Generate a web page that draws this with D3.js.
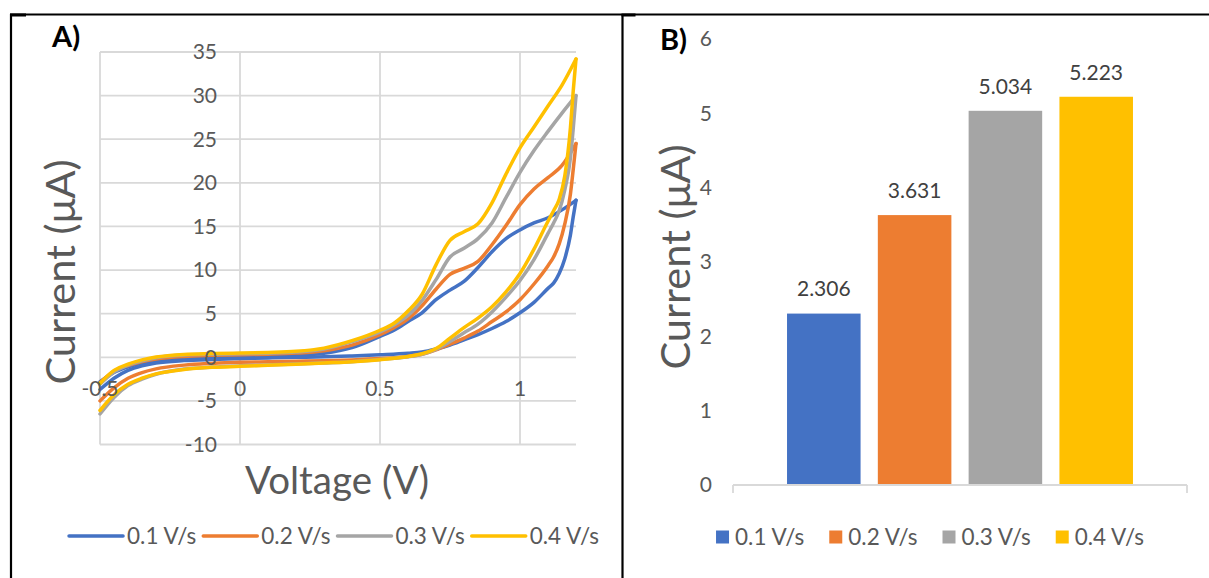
<!DOCTYPE html>
<html>
<head>
<meta charset="utf-8">
<script src="https://cdn.jsdelivr.net/npm/d3@7"></script>
<style>
  body { margin: 0; background: #fff; }
  text { font-family: Lato, "Open Sans", sans-serif; }
</style>
</head>
<body>
<svg id="chart" width="1209" height="578"></svg>
<script>
// series (scan rates) and their colours
var seriesNames = ["0.1 V/s", "0.2 V/s", "0.3 V/s", "0.4 V/s"];
var seriesColors = ["#4472C4", "#ED7D31", "#A5A5A5", "#FFC000"];

// panel A - cyclic voltammograms: forward scan (-0.5 -> 1.2 V) then reverse scan (1.2 -> -0.5 V)
var forwardV = [-0.5, -0.45, -0.4, -0.35, -0.3, -0.2, -0.1, 0, 0.1, 0.2, 0.3, 0.4, 0.5, 0.55, 0.6, 0.65, 0.7, 0.75, 0.8, 0.85, 0.9, 0.95, 1.0, 1.05, 1.1, 1.15, 1.2];
var reverseV = [1.2, 1.19, 1.18, 1.16, 1.14, 1.12, 1.1, 1.05, 1.0, 0.95, 0.9, 0.85, 0.8, 0.75, 0.7, 0.65, 0.6, 0.5, 0.4, 0.3, 0.2, 0.1, 0, -0.1, -0.2, -0.3, -0.35, -0.4, -0.45, -0.5];

var forwardI_01 = [-2.8, -1.75, -1.1, -0.65, -0.4, -0.15, -0.05, 0.0, 0.08, 0.2, 0.45, 1.1, 2.4, 3.1, 4.1, 5.1, 6.6, 7.7, 8.7, 10.3, 12.1, 13.6, 14.6, 15.4, 16.0, 16.9, 18.0];
var forwardI_02 = [-2.9, -1.6, -0.95, -0.5, -0.2, 0.1, 0.22, 0.3, 0.36, 0.48, 0.75, 1.4, 2.6, 3.4, 4.4, 5.9, 7.8, 9.5, 10.2, 11.0, 12.9, 15.1, 17.5, 19.3, 20.6, 22.0, 24.5];
var forwardI_03 = [-3.1, -1.7, -0.9, -0.4, -0.05, 0.25, 0.35, 0.4, 0.47, 0.6, 0.95, 1.8, 2.9, 3.7, 4.8, 6.5, 8.9, 11.5, 12.5, 13.6, 15.4, 18.3, 21.2, 23.7, 25.9, 28.0, 30.0];
var forwardI_04 = [-3.0, -1.5, -0.8, -0.3, 0.03, 0.33, 0.42, 0.48, 0.55, 0.68, 1.05, 1.9, 3.1, 3.9, 5.3, 7.2, 10.6, 13.4, 14.4, 15.3, 17.7, 21.0, 24.0, 26.4, 28.8, 31.2, 34.2];

var reverseI_01 = [18.0, 16.1, 14.0, 11.3, 9.6, 8.5, 7.9, 6.3, 5.1, 4.1, 3.3, 2.6, 2.0, 1.4, 0.95, 0.6, 0.45, 0.28, 0.15, 0.05, 0.0, -0.07, -0.16, -0.25, -0.38, -0.66, -0.98, -1.5, -2.4, -3.7];
var reverseI_02 = [24.5, 21.5, 18.7, 15.3, 13.0, 11.5, 10.5, 8.4, 6.6, 5.2, 4.1, 3.0, 2.2, 1.5, 0.85, 0.35, 0.1, -0.15, -0.3, -0.4, -0.45, -0.52, -0.58, -0.7, -0.9, -1.33, -1.75, -2.4, -3.5, -5.0];
var reverseI_03 = [30.0, 26.2, 22.8, 19.2, 16.8, 15.4, 14.2, 11.2, 8.8, 6.9, 5.2, 3.8, 2.8, 1.8, 0.9, 0.35, 0.05, -0.25, -0.5, -0.65, -0.78, -0.88, -0.98, -1.12, -1.35, -1.95, -2.5, -3.25, -4.6, -6.5];
var reverseI_04 = [34.2, 30.5, 26.3, 20.8, 18.1, 16.8, 15.6, 12.4, 9.6, 7.5, 5.8, 4.5, 3.4, 2.2, 1.0, 0.4, 0.1, -0.27, -0.5, -0.65, -0.8, -0.92, -1.04, -1.15, -1.4, -1.9, -2.4, -3.1, -4.3, -6.1];

var xTicksA = [-0.5, 0, 0.5, 1];
var yTicksA = [-10, -5, 0, 5, 10, 15, 20, 25, 30, 35];

// panel B - peak current per scan rate
var peakCurrent = [2.306, 3.631, 5.034, 5.223];
var yTicksB = [0, 1, 2, 3, 4, 5, 6];


var svg = d3.select("#chart");
var gridColor = "#d9d9d9";
var labelColor = "#595959";

// frame (table borders)
svg.append("line").attr("x1", 10).attr("x2", 1209).attr("y1", 14.5).attr("y2", 14.5).attr("stroke", "#000").attr("stroke-width", 1.8);
svg.append("line").attr("x1", 11).attr("x2", 11).attr("y1", 14).attr("y2", 578).attr("stroke", "#000").attr("stroke-width", 2.2);
svg.append("line").attr("x1", 622.5).attr("x2", 622.5).attr("y1", 14).attr("y2", 578).attr("stroke", "#000").attr("stroke-width", 2.2);
svg.append("rect").attr("x", 10).attr("y", 13.5).attr("width", 16).attr("height", 3).attr("fill", "#000");
svg.append("rect").attr("x", 621.5).attr("y", 13.5).attr("width", 14).attr("height", 3).attr("fill", "#000");

// ---------------- panel A ----------------
var xA = d3.scaleLinear().domain([-0.5, 1.2]).range([100, 576]);
var yA = d3.scaleLinear().domain([-10, 35]).range([444.5, 52]);

var gA = svg.append("g");

gA.selectAll(".hgrid").data(yTicksA).join("line")
    .attr("x1", xA(-0.5)).attr("x2", xA(1.2))
    .attr("y1", d => yA(d)).attr("y2", d => yA(d))
    .attr("stroke", gridColor).attr("stroke-width", 1.8);

gA.selectAll(".vgrid").data(xTicksA).join("line")
    .attr("x1", d => xA(d)).attr("x2", d => xA(d))
    .attr("y1", yA(35)).attr("y2", yA(-10))
    .attr("stroke", gridColor).attr("stroke-width", 1.8);

var forwardI = [forwardI_01, forwardI_02, forwardI_03, forwardI_04];
var reverseI = [reverseI_01, reverseI_02, reverseI_03, reverseI_04];

// each scan is drawn as two x-monotone branches so the smoothing stays clean
var cvData = seriesNames.map(function (name, i) {
    var fwd = forwardV.map((v, k) => [v, forwardI[i][k]]);
    var rev = reverseV.map((v, k) => [v, reverseI[i][k]]).reverse();
    return { name: name, color: seriesColors[i], branches: [fwd, rev] };
});

var cvLine = d3.line()
    .x(d => xA(d[0]))
    .y(d => yA(d[1]))
    .curve(d3.curveMonotoneX);

var cvGroups = gA.selectAll(".cv").data(cvData).join("g");
cvGroups.selectAll("path").data(d => d.branches.map(b => ({ color: d.color, pts: b }))).join("path")
    .attr("d", d => cvLine(d.pts))
    .attr("fill", "none")
    .attr("stroke", d => d.color)
    .attr("stroke-width", 3.5)
    .attr("stroke-linejoin", "round")
    .attr("stroke-linecap", "round");

// tick labels (drawn over the curves like the original)
gA.selectAll(".ylab").data(yTicksA).join("text")
    .attr("x", 217).attr("y", d => yA(d))
    .attr("dy", "0.35em")
    .attr("text-anchor", "end")
    .attr("font-size", 21).attr("fill", labelColor)
    .text(d => String(d));

gA.selectAll(".xlab").data(xTicksA).join("text")
    .attr("x", d => xA(d)).attr("y", 389)
    .attr("dy", "0.35em")
    .attr("text-anchor", "middle")
    .attr("font-size", 21).attr("fill", labelColor)
    .text(d => String(d));

gA.append("text")
    .attr("transform", "translate(75,272) rotate(-90)")
    .attr("text-anchor", "middle")
    .attr("font-size", 41.5).attr("fill", labelColor)
    .text("Current (μA)");

gA.append("text")
    .attr("x", 337).attr("y", 494)
    .attr("text-anchor", "middle")
    .attr("font-size", 38.5).attr("fill", labelColor)
    .text("Voltage (V)");

gA.append("text")
    .attr("x", 52).attr("y", 47)
    .attr("font-size", 29).attr("font-weight", "bold").attr("fill", "#000")
    .text("A)");

// legend A
var legA = gA.append("g");
var legAItems = legA.selectAll("g").data(cvData).join("g");
legAItems.append("line")
    .attr("x1", 0).attr("x2", 54).attr("y1", 0).attr("y2", 0)
    .attr("stroke", d => d.color).attr("stroke-width", 3.5).attr("stroke-linecap", "round");
legAItems.append("text")
    .attr("x", 58).attr("dy", "0.35em")
    .attr("font-size", 22.5).attr("fill", labelColor)
    .text(d => d.name);
var offA = 0;
var posA = [];
legAItems.each(function () {
    posA.push(offA);
    offA += this.getBBox().width + 7;
});
var startA = 334 - (offA - 7) / 2;
legAItems.attr("transform", (d, i) => "translate(" + (startA + posA[i]) + ",536)");

// ---------------- panel B ----------------
var xB = d3.scaleBand().domain(seriesNames).range([733, 1187]).paddingInner(0.19).paddingOuter(0.595);
var yB = d3.scaleLinear().domain([0, 6]).range([485, 39]);

var gB = svg.append("g");

gB.selectAll(".bar").data(peakCurrent).join("rect")
    .attr("x", (d, i) => xB(seriesNames[i]))
    .attr("width", xB.bandwidth())
    .attr("y", d => yB(d))
    .attr("height", d => yB(0) - yB(d))
    .attr("fill", (d, i) => seriesColors[i]);

gB.append("line")
    .attr("x1", 733).attr("x2", 1187).attr("y1", yB(0)).attr("y2", yB(0))
    .attr("stroke", gridColor).attr("stroke-width", 1.8);
gB.selectAll(".endtick").data([733, 1187]).join("line")
    .attr("x1", d => d).attr("x2", d => d).attr("y1", yB(0)).attr("y2", yB(0) + 8)
    .attr("stroke", gridColor).attr("stroke-width", 1.8);

gB.selectAll(".vlab").data(peakCurrent).join("text")
    .attr("x", (d, i) => xB(seriesNames[i]) + xB.bandwidth() / 2)
    .attr("y", d => yB(d) - 24.5)
    .attr("dy", "0.35em")
    .attr("text-anchor", "middle")
    .attr("font-size", 21).attr("fill", "#404040")
    .text(d => d3.format(".3f")(d));

gB.selectAll(".ylab").data(yTicksB).join("text")
    .attr("x", 712).attr("y", d => yB(d))
    .attr("dy", "0.35em")
    .attr("text-anchor", "end")
    .attr("font-size", 21).attr("fill", labelColor)
    .text(d => String(d));

gB.append("text")
    .attr("transform", "translate(690,257) rotate(-90)")
    .attr("text-anchor", "middle")
    .attr("font-size", 41.5).attr("fill", labelColor)
    .text("Current (μA)");

gB.append("text")
    .attr("x", 660).attr("y", 50)
    .attr("font-size", 29).attr("font-weight", "bold").attr("fill", "#000")
    .text("B)");

// legend B
var legB = gB.append("g");
var legBItems = legB.selectAll("g").data(seriesNames).join("g");
legBItems.append("rect")
    .attr("x", 0).attr("y", -6.5).attr("width", 13).attr("height", 13)
    .attr("fill", (d, i) => seriesColors[i]);
legBItems.append("text")
    .attr("x", 19).attr("dy", "0.35em")
    .attr("font-size", 22.5).attr("fill", labelColor)
    .text(d => d);
var offB = 0;
var posB = [];
legBItems.each(function () {
    posB.push(offB);
    offB += this.getBBox().width + 25;
});
var startB = 930 - (offB - 25) / 2;
legBItems.attr("transform", (d, i) => "translate(" + (startB + posB[i]) + ",537)");
</script>
</body>
</html>
